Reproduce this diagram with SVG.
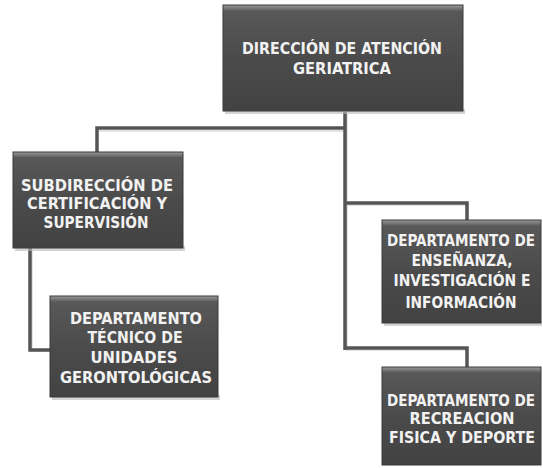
<svg xmlns="http://www.w3.org/2000/svg" width="543" height="468" viewBox="0 0 543 468">
<style>
.box{fill:url(#boxg);stroke:#3a3a3a;stroke-width:1}
.shadow{fill:#b8b8b8;opacity:0.6}
.t{font-family:"DejaVu Sans Condensed","Liberation Sans Narrow","Liberation Sans",sans-serif;font-weight:bold;font-size:16.5px;fill:#f2f2f2;text-anchor:middle}
.s{font-size:15px}
.c{fill:none;stroke:#555;stroke-width:3.5;stroke-linejoin:miter}
.cs{fill:none;stroke:#dcdcdc;stroke-width:1.5}
</style>
<defs>
<linearGradient id="boxg" x1="0" y1="0" x2="0" y2="1">
<stop offset="0" stop-color="#9a9a9a"/>
<stop offset="0.06" stop-color="#585858"/>
<stop offset="0.5" stop-color="#4b4b4b"/>
<stop offset="1" stop-color="#424242"/>
</linearGradient>
</defs>
<rect width="543" height="468" fill="#fff"/>
<g id="connectors">
<path class="cs" d="M99 131 H347 M347 114 V351 M32 250 V351 H52 M347 205 H469 M347 350 H469"/>
<path class="c" d="M345 112 V350 M345 128 H97 V152 M30 248 V350 H52 M345 203 H467 V220 M345 348 H467 V367"/>
</g>
<g id="n1">
<rect class="shadow" x="225" y="109" width="240" height="5"/>
<rect class="box" x="223" y="5" width="240" height="106"/>
<text class="t" x="342" y="54" textLength="200" lengthAdjust="spacingAndGlyphs">DIRECCIÓN DE ATENCIÓN</text>
<text class="t" x="342" y="74" textLength="98" lengthAdjust="spacingAndGlyphs">GERIATRICA</text>
</g>
<g id="n2">
<rect class="shadow" x="15" y="246" width="170" height="5"/>
<rect class="box" x="13" y="152" width="170" height="96"/>
<text class="t" x="97" y="191" textLength="152" lengthAdjust="spacingAndGlyphs">SUBDIRECCIÓN DE</text>
<text class="t" x="97" y="209" textLength="140" lengthAdjust="spacingAndGlyphs">CERTIFICACIÓN Y</text>
<text class="t" x="96" y="228" textLength="105" lengthAdjust="spacingAndGlyphs">SUPERVISIÓN</text>
</g>
<g id="n3">
<rect class="shadow" x="52" y="395" width="168" height="5"/>
<rect class="box" x="50" y="296" width="168" height="101"/>
<text class="t" x="136" y="324" textLength="132" lengthAdjust="spacingAndGlyphs">DEPARTAMENTO</text>
<text class="t" x="135" y="343" textLength="95" lengthAdjust="spacingAndGlyphs">TÉCNICO DE</text>
<text class="t" x="134" y="363" textLength="87" lengthAdjust="spacingAndGlyphs">UNIDADES</text>
<text class="t" x="136" y="383" textLength="152" lengthAdjust="spacingAndGlyphs">GERONTOLÓGICAS</text>
</g>
<g id="n4">
<rect class="shadow" x="384" y="321" width="158" height="5"/>
<rect class="box" x="382" y="220" width="159" height="103"/>
<text class="t s" x="461" y="246" textLength="148" lengthAdjust="spacingAndGlyphs">DEPARTAMENTO DE</text>
<text class="t" x="462" y="266" textLength="101" lengthAdjust="spacingAndGlyphs">ENSEÑANZA,</text>
<text class="t" x="462" y="286" textLength="137" lengthAdjust="spacingAndGlyphs">INVESTIGACIÓN E</text>
<text class="t" x="461" y="308" textLength="111" lengthAdjust="spacingAndGlyphs">INFORMACIÓN</text>
</g>
<g id="n5">
<rect class="box" x="382" y="367" width="159" height="98"/>
<text class="t s" x="461" y="406" textLength="148" lengthAdjust="spacingAndGlyphs">DEPARTAMENTO DE</text>
<text class="t" x="462" y="424" textLength="105" lengthAdjust="spacingAndGlyphs">RECREACION</text>
<text class="t" x="462" y="443" textLength="146" lengthAdjust="spacingAndGlyphs">FISICA Y DEPORTE</text>
</g>
</svg>
